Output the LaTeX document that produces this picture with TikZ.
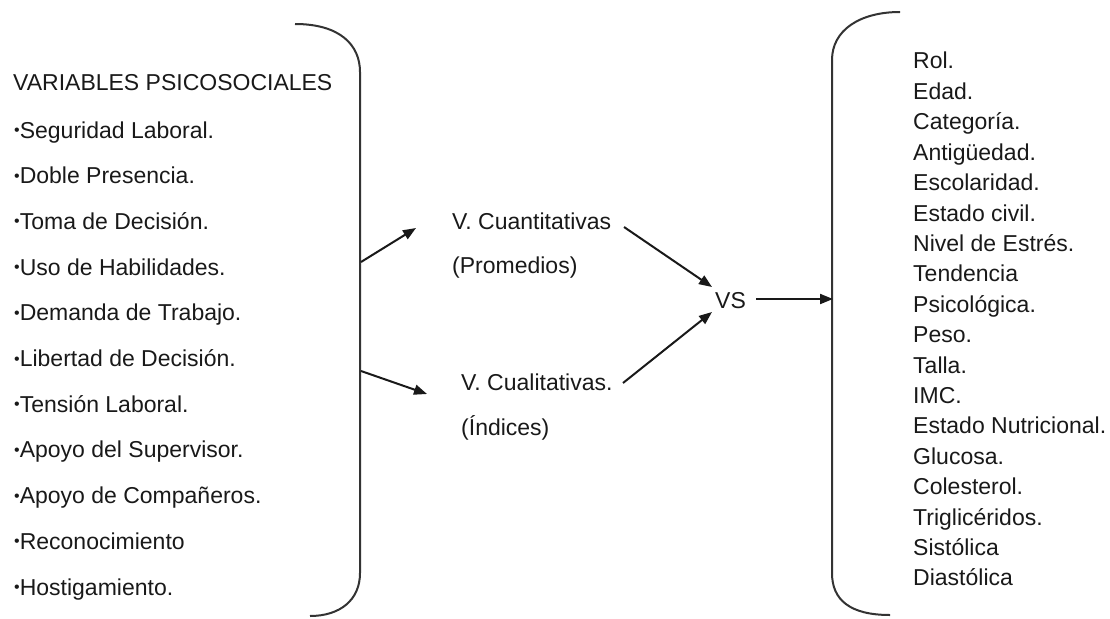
\documentclass[tikz,border=0pt]{standalone}
\usepackage{fontspec}
\setmainfont{Liberation Sans}
\usetikzlibrary{arrows.meta}
\newcommand{\smallbul}{\raisebox{2.5pt}{\fontsize{16}{16}\selectfont •}}
\begin{document}
\begin{tikzpicture}[x=1pt,y=-1pt,
  txt/.style={anchor=base west, inner sep=0pt, font=\fontsize{23}{27}\selectfont, text=black!90},
  brace/.style={line width=2pt, draw=black!80},
  arr/.style={line width=2pt, draw=black!90, -{Triangle[length=13pt,width=10pt]}}]
\useasboundingbox (0,0) rectangle (1110,618);
% left bracket
\draw[brace] (295,24) .. controls (340,24) and (360,45) .. (360,72) -- (360,573)
  .. controls (360,600) and (340,616) .. (310,616);
% right bracket
\draw[brace] (900,12) .. controls (860,12) and (832,30) .. (832,60) -- (832,573)
  .. controls (832,600) and (850,615) .. (890,615);
% left list
\node[txt] (hdr) at (13,90) {VARIABLES PSICOSOCIALES};
\foreach \t [count=\i from 0] in {Seguridad Laboral.,Doble Presencia.,Toma de Decisión.,Uso de Habilidades.,Demanda de Trabajo.,Libertad de Decisión.,Tensión Laboral.,Apoyo del Supervisor.,Apoyo de Compañeros.,Reconocimiento,Hostigamiento.}
  \node[txt] (l\i) at ({14},{138+45.7*\i}) {\smallbul\t};
% right list
\foreach \t [count=\i from 0] in {Rol.,Edad.,Categoría.,Antigüedad.,Escolaridad.,Estado civil.,Nivel de Estrés.,Tendencia,Psicológica.,Peso.,Talla.,IMC.,Estado Nutricional.,Glucosa.,Colesterol.,Triglicéridos.,Sistólica,Diastólica}
  \node[txt] (r\i) at ({913},{69+30.4*\i}) {\t};
% middle
\node[txt] (cuant) at (452,229) {V. Cuantitativas};
\node[txt] (prom) at (452,273) {(Promedios)};
\node[txt] (cual) at (461,390) {V. Cualitativas.};
\node[txt] (ind) at (461,435) {(Índices)};
\node[txt] (vs) at (715,308) {VS};
% connector ends
\coordinate (lb1) at (361,262);
\coordinate (lb2) at (361,371);
\coordinate (t1) at (416,228);
\coordinate (t2) at (427,394);
\coordinate (c1) at (624,227);
\coordinate (c2) at (623,383);
\coordinate (v1) at (712,287);
\coordinate (v2) at (712,312);
\coordinate (vo) at (756,299);
\coordinate (rb) at (833,299);
\draw[arr] (lb1) -- (t1);
\draw[arr] (lb2) -- (t2);
\draw[arr] (c1) -- (v1);
\draw[arr] (c2) -- (v2);
\draw[arr] (vo) -- (rb);
\end{tikzpicture}
\end{document}
